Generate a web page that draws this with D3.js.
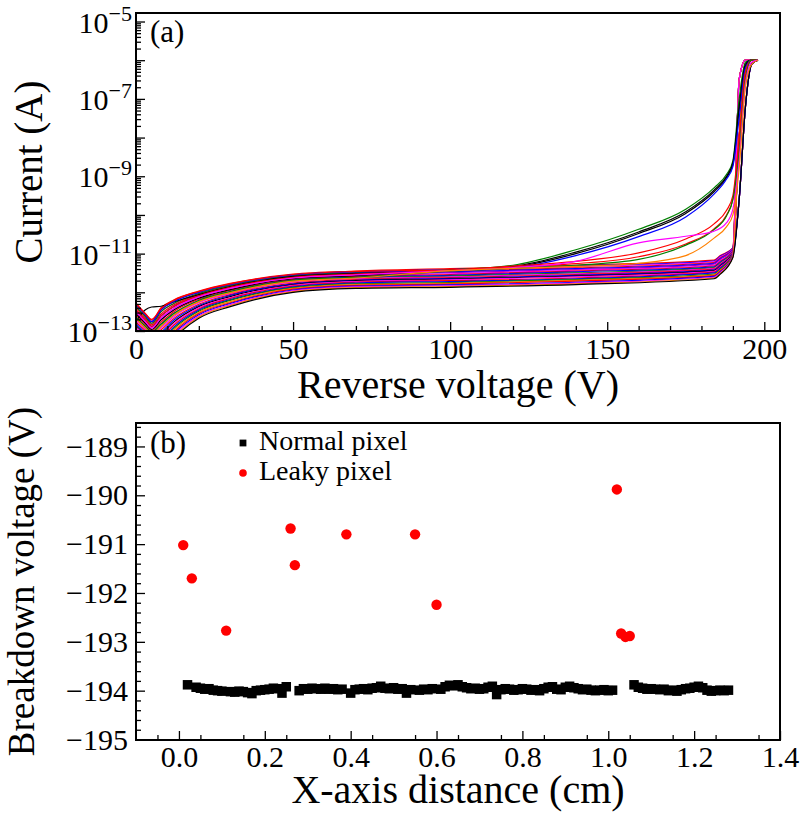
<!DOCTYPE html>
<html><head><meta charset="utf-8">
<script src="https://cdn.jsdelivr.net/npm/d3@7"></script>
<style>body{margin:0;background:#fff}</style>
</head><body>
<svg id="c" width="800" height="813"></svg>
<script>
// ---------------- DATA ----------------
// Panel (a): reverse voltage grid (V) and log10(current / A) per curve
const bandVolts = [0,3,5,8,12,20,30,50,70,100,140,184,186,190,192,194,196,198];
const bandLogI = [
[-12.28,-12.55,-12.72,-12.40,-12.20,-11.97,-11.77,-11.53,-11.45,-11.39,-11.30,-11.17,-11.05,-10.85,-6.5,-6.0,-6.0,-6.0],
[-12.32,-12.59,-12.76,-12.45,-12.24,-12.00,-11.80,-11.55,-11.47,-11.41,-11.32,-11.19,-11.07,-10.86,-8.0,-6.2,-6.0,-6.0],
[-12.37,-12.63,-12.80,-12.50,-12.29,-12.03,-11.82,-11.57,-11.49,-11.43,-11.34,-11.21,-11.09,-10.87,-9.6,-7.2,-6.1,-6.0],
[-12.41,-12.67,-12.84,-12.56,-12.33,-12.06,-11.85,-11.59,-11.51,-11.45,-11.37,-11.23,-11.11,-10.88,-6.5,-6.0,-6.0,-6.0],
[-12.46,-12.72,-12.88,-12.61,-12.37,-12.09,-11.87,-11.61,-11.53,-11.47,-11.39,-11.25,-11.13,-10.89,-8.0,-6.2,-6.0,-6.0],
[-12.50,-12.76,-12.92,-12.66,-12.42,-12.12,-11.90,-11.63,-11.55,-11.49,-11.41,-11.27,-11.15,-10.90,-9.6,-7.2,-6.1,-6.0],
[-12.55,-12.80,-12.96,-12.71,-12.46,-12.15,-11.93,-11.65,-11.57,-11.52,-11.43,-11.30,-11.18,-10.92,-6.5,-6.0,-6.0,-6.0],
[-12.59,-12.84,-12.99,-12.77,-12.50,-12.18,-11.95,-11.67,-11.59,-11.54,-11.45,-11.32,-11.20,-10.93,-8.0,-6.2,-6.0,-6.0],
[-12.64,-12.88,-13.03,-12.82,-12.55,-12.21,-11.98,-11.69,-11.61,-11.56,-11.47,-11.34,-11.22,-10.94,-9.6,-7.2,-6.1,-6.0],
[-12.68,-12.92,-13.07,-12.87,-12.59,-12.24,-12.01,-11.71,-11.63,-11.58,-11.50,-11.36,-11.24,-10.95,-6.5,-6.0,-6.0,-6.0],
[-12.72,-12.96,-13.11,-12.92,-12.63,-12.27,-12.03,-11.73,-11.65,-11.60,-11.52,-11.38,-11.26,-10.96,-8.0,-6.2,-6.0,-6.0],
[-12.77,-13.00,-13.15,-12.97,-12.68,-12.31,-12.06,-11.76,-11.67,-11.62,-11.54,-11.40,-11.28,-10.97,-9.6,-7.2,-6.1,-6.0],
[-12.81,-13.05,-13.19,-13.03,-12.72,-12.34,-12.08,-11.78,-11.69,-11.64,-11.56,-11.42,-11.30,-10.98,-6.5,-6.0,-6.0,-6.0],
[-12.86,-13.09,-13.23,-13.08,-12.77,-12.37,-12.11,-11.80,-11.70,-11.66,-11.58,-11.44,-11.32,-10.99,-8.0,-6.2,-6.0,-6.0],
[-12.90,-13.13,-13.27,-13.13,-12.81,-12.40,-12.14,-11.82,-11.72,-11.68,-11.60,-11.46,-11.34,-11.00,-9.6,-7.2,-6.1,-6.0],
[-12.95,-13.17,-13.31,-13.18,-12.85,-12.43,-12.16,-11.84,-11.74,-11.70,-11.63,-11.48,-11.36,-11.01,-6.5,-6.0,-6.0,-6.0],
[-12.99,-13.21,-13.35,-13.24,-12.90,-12.46,-12.19,-11.86,-11.76,-11.72,-11.65,-11.50,-11.38,-11.02,-8.0,-6.2,-6.0,-6.0],
[-13.03,-13.25,-13.39,-13.29,-12.94,-12.49,-12.21,-11.88,-11.78,-11.75,-11.67,-11.53,-11.41,-11.03,-9.6,-7.2,-6.1,-6.0],
[-13.08,-13.29,-13.42,-13.34,-12.98,-12.52,-12.24,-11.90,-11.80,-11.77,-11.69,-11.55,-11.43,-11.05,-6.5,-6.0,-6.0,-6.0],
[-13.12,-13.34,-13.46,-13.39,-13.03,-12.55,-12.27,-11.92,-11.82,-11.79,-11.71,-11.57,-11.45,-11.06,-8.0,-6.2,-6.0,-6.0],
[-13.17,-13.38,-13.50,-13.44,-13.07,-12.58,-12.29,-11.94,-11.84,-11.81,-11.74,-11.59,-11.47,-11.07,-9.6,-7.2,-6.1,-6.0],
[-13.21,-13.42,-13.54,-13.50,-13.11,-12.61,-12.32,-11.96,-11.86,-11.83,-11.76,-11.61,-11.49,-11.08,-6.5,-6.0,-6.0,-6.0],
[-13.26,-13.46,-13.58,-13.55,-13.16,-12.64,-12.34,-11.98,-11.88,-11.85,-11.78,-11.63,-11.51,-11.09,-8.0,-6.2,-6.0,-6.0],
[-13.30,-13.50,-13.62,-13.60,-13.20,-12.67,-12.37,-12.00,-11.90,-11.87,-11.80,-11.65,-11.53,-11.10,-9.6,-7.2,-6.1,-6.0]
];
// Early-leaking curves
const leakyVolts = [0,3,5,8,12,20,30,50,70,100,120,140,160,175,184,188,190,192,194,196,198];
const leakyLogI = [
[-12.37,-12.63,-12.80,-12.50,-12.29,-12.03,-11.82,-11.57,-11.49,-11.42,-11.30,-10.90,-10.37,-9.85,-9.30,-8.95,-8.60,-7.00,-6.05,-6.00,-6.00],
[-12.75,-12.45,-12.38,-12.36,-12.25,-12.06,-11.85,-11.59,-11.51,-11.43,-11.33,-10.96,-10.44,-9.92,-9.36,-9.00,-8.65,-7.20,-6.10,-6.00,-6.00],
[-12.55,-12.80,-12.96,-12.71,-12.46,-12.15,-11.93,-11.65,-11.57,-11.44,-11.35,-11.00,-10.48,-9.96,-9.40,-9.03,-8.70,-7.30,-6.15,-6.00,-6.00],
[-12.32,-12.59,-12.76,-12.45,-12.24,-12.00,-11.80,-11.55,-11.47,-11.45,-11.37,-11.05,-10.56,-10.05,-9.46,-9.07,-8.75,-7.50,-6.20,-6.00,-6.00],
[-12.30,-12.56,-12.70,-12.42,-12.21,-11.98,-11.78,-11.54,-11.46,-11.42,-11.32,-11.20,-10.98,-10.62,-10.23,-9.88,-9.50,-8.00,-6.30,-6.00,-6.00],
[-12.46,-12.72,-12.88,-12.61,-12.37,-12.09,-11.87,-11.61,-11.53,-11.44,-11.35,-11.26,-11.08,-10.75,-10.36,-10.00,-9.60,-8.20,-6.40,-6.00,-6.00],
[-12.64,-12.88,-13.03,-12.82,-12.55,-12.21,-11.98,-11.69,-11.61,-11.45,-11.38,-11.30,-11.15,-10.78,-10.38,-10.02,-9.60,-8.40,-6.50,-6.00,-6.00],
[-12.50,-12.76,-12.92,-12.66,-12.42,-12.12,-11.90,-11.63,-11.55,-11.44,-11.36,-11.20,-10.72,-10.55,-10.42,-10.20,-9.85,-8.60,-6.60,-6.05,-6.00],
[-12.68,-12.92,-13.07,-12.87,-12.59,-12.24,-12.01,-11.71,-11.63,-11.44,-11.38,-11.33,-11.25,-11.05,-10.60,-10.30,-10.00,-8.80,-6.70,-6.10,-6.00]
];
const topXTicks = [0,50,100,150,200];
const topYLabelExps = [-13,-11,-9,-7,-5];

// Panel (b): breakdown voltage vs x-axis position
const normalX = [0.02,0.04,0.05,0.06,0.07,0.08,0.09,0.10,0.12,0.13,0.14,0.15,0.16,0.17,0.18,0.19,0.20,0.21,0.22,0.23,0.24,0.25,
0.28,0.29,0.30,0.31,0.32,0.33,0.34,0.35,0.36,0.37,0.38,0.40,0.41,0.42,0.43,0.44,0.45,0.46,0.47,0.48,0.49,0.50,0.51,0.52,0.53,0.54,
0.56,0.57,0.58,0.59,0.61,0.62,0.63,0.64,0.65,0.66,0.67,0.68,0.69,0.70,0.71,0.72,0.73,0.74,0.75,0.76,0.77,0.78,0.79,0.80,
0.81,0.82,0.83,0.84,0.85,0.86,0.87,0.88,0.89,0.90,0.91,0.92,0.93,0.94,0.95,0.96,0.97,0.98,0.99,1.00,1.01,
1.06,1.07,1.08,1.09,1.10,1.11,1.12,1.13,1.14,1.15,1.16,1.17,1.18,1.19,1.20,1.21,1.22,1.23,1.24,1.25,1.26,1.27,1.28];
const normalY = [-193.88,-193.93,-193.95,-193.97,-193.96,-193.99,-194.00,-194.01,-194.02,-194.03,-194.01,-194.02,-194.04,-194.06,-194.00,-193.99,-193.98,-193.97,-193.95,-193.96,-194.05,-193.92,
-194.00,-193.96,-193.97,-193.95,-193.96,-193.97,-193.95,-193.97,-193.96,-193.98,-193.97,-194.05,-193.98,-193.97,-193.96,-193.98,-193.95,-193.94,-193.91,-193.95,-193.96,-193.94,-193.97,-193.96,-194.05,-193.98,
-193.99,-193.97,-193.98,-193.96,-193.97,-193.92,-193.89,-193.90,-193.88,-193.92,-193.94,-193.96,-193.95,-193.97,-193.96,-193.93,-193.91,-194.08,-193.98,-193.96,-193.97,-193.99,-193.98,-193.96,
-193.97,-193.99,-193.98,-194.00,-193.96,-193.93,-193.92,-193.97,-193.98,-193.93,-193.91,-193.94,-193.96,-193.98,-193.97,-193.99,-194.00,-193.99,-193.98,-194.00,-193.99,
-193.88,-193.93,-193.95,-193.97,-193.96,-193.97,-193.98,-193.97,-194.00,-193.99,-194.01,-193.98,-193.96,-193.95,-193.93,-193.91,-193.94,-193.99,-194.01,-194.00,-193.99,-194.00,-193.99];
const leakyX = [0.01,0.03,0.11,0.26,0.27,0.39,0.55,0.60,1.02,1.03,1.04,1.05];
const leakyY = [-191.02,-191.70,-192.77,-190.68,-191.43,-190.80,-190.80,-192.24,-189.88,-192.83,-192.90,-192.88];
const botXTicks = [0,0.2,0.4,0.6,0.8,1.0,1.2,1.4];
const botYTicks = [-195,-194,-193,-192,-191,-190,-189];

// ---------------- STYLE ----------------
const FONT = "'Liberation Serif','Times New Roman',serif";
const bandColors = ["#ff0000","#0000ff","#ff00ff","#ff0000","#0000ff","#9000d0","#ff00ff","#ff0000","#0000ff","#008000","#ff00ff","#ff0000",
                    "#0000ff","#000000","#ff00ff","#ff0000","#0000ff","#008000","#ff8000","#ff0000","#0000ff","#ff00ff","#ff8000","#000000"];
const leakyColors = ["#008000","#000000","#000000","#0000ff","#ff0000","#ff0000","#008000","#ff00ff","#ff8000"];

const svg = d3.select("#c");
svg.append("rect").attr("width",800).attr("height",813).attr("fill","#fff");

// ---------------- PANEL (a) ----------------
const A = {l:136, r:780, t:13, b:331};
const xA = d3.scaleLinear().domain([0,205]).range([A.l, A.r]);
const yA = d3.scaleLog().domain([1e-13, 1.66e-5]).range([A.b, A.t]);

svg.append("clipPath").attr("id","clipA").append("rect")
  .attr("x",A.l).attr("y",A.t).attr("width",A.r-A.l).attr("height",A.b-A.t);

const lineA = d3.line().x(d=>xA(d[0])).y(d=>yA(Math.pow(10,d[1]))).curve(d3.curveMonotoneX);
const gA = svg.append("g").attr("clip-path","url(#clipA)");
bandLogI.forEach((row,i)=>{
  gA.append("path").datum(bandVolts.map((v,j)=>[v,row[j]]))
    .attr("d",lineA).attr("fill","none").attr("stroke",bandColors[i%bandColors.length]).attr("stroke-width",1.2);
});
leakyLogI.forEach((row,i)=>{
  gA.append("path").datum(leakyVolts.map((v,j)=>[v,row[j]]))
    .attr("d",lineA).attr("fill","none").attr("stroke",leakyColors[i]).attr("stroke-width",1.2);
});

// x axis (a)
svg.append("g").attr("transform",`translate(0,${A.b})`)
  .call(d3.axisBottom(xA).tickValues(topXTicks).tickSizeInner(-9).tickSizeOuter(0).tickPadding(7).tickFormat(d3.format("d")));
svg.append("g").attr("transform",`translate(0,${A.b})`)
  .call(d3.axisBottom(xA).tickValues(d3.range(0,206,10).filter(v=>v%50!==0)).tickSizeInner(-5).tickSizeOuter(0).tickFormat(""));
// y axis (a)
const decades = d3.range(-13,-4).map(e=>Math.pow(10,e));
const minorA = [];
d3.range(-13,-5).forEach(e=>{ for(let m=2;m<=9;m++) minorA.push(m*Math.pow(10,e)); });
svg.append("g").attr("transform",`translate(${A.l},0)`)
  .call(d3.axisLeft(yA).tickValues(decades).tickSizeInner(-9).tickSizeOuter(0).tickFormat(""));
svg.append("g").attr("transform",`translate(${A.l},0)`)
  .call(d3.axisLeft(yA).tickValues(minorA).tickSizeInner(-5).tickSizeOuter(0).tickFormat(""));
topYLabelExps.forEach(e=>{
  const t = svg.append("text").attr("x",A.l-4).attr("y",yA(Math.pow(10,e))+11)
    .attr("text-anchor","end").attr("font-family",FONT).attr("font-size",30).attr("fill","#000");
  t.append("tspan").text("10");
  t.append("tspan").attr("dy",-12).attr("font-size",22).text("\u2212"+Math.abs(e));
});

// ---------------- PANEL (b) ----------------
const B = {l:136, r:780, t:423, b:740};
const xB = d3.scaleLinear().domain([-0.1,1.4]).range([B.l, B.r]);
const yB = d3.scaleLinear().domain([-195.01,-188.52]).range([B.b, B.t]);

svg.append("g").attr("transform",`translate(0,${B.b})`)
  .call(d3.axisBottom(xB).tickValues(botXTicks).tickSizeInner(-9).tickSizeOuter(0).tickPadding(6).tickFormat(d3.format(".1f")));
svg.append("g").attr("transform",`translate(0,${B.b})`)
  .call(d3.axisBottom(xB).tickValues(d3.range(-0.05,1.4,0.1)).tickSizeInner(-5).tickSizeOuter(0).tickFormat(""));
svg.append("g").attr("transform",`translate(${B.l},0)`)
  .call(d3.axisLeft(yB).tickValues(botYTicks).tickSizeInner(-9).tickSizeOuter(0).tickPadding(8).tickFormat(d3.format("d")));
svg.append("g").attr("transform",`translate(${B.l},0)`)
  .call(d3.axisLeft(yB).tickValues(d3.range(-194.8,-188.5,0.2).filter(v=>Math.abs(v-Math.round(v))>0.05)).tickSizeInner(-5).tickSizeOuter(0).tickFormat(""));

const sq = 9.5;
svg.append("g").selectAll("rect").data(normalX.map((x,i)=>[x,normalY[i]])).join("rect")
  .attr("x",d=>xB(d[0])-sq/2).attr("y",d=>yB(d[1])-sq/2).attr("width",sq).attr("height",sq).attr("fill","#000");
svg.append("g").selectAll("circle").data(leakyX.map((x,i)=>[x,leakyY[i]])).join("circle")
  .attr("cx",d=>xB(d[0])).attr("cy",d=>yB(d[1])).attr("r",5.2).attr("fill","#ff0000");

// legend (b)
svg.append("rect").attr("x",243-3.4).attr("y",443-3.4).attr("width",6.8).attr("height",6.8).attr("fill","#000");
svg.append("circle").attr("cx",243).attr("cy",473).attr("r",3.8).attr("fill","#ff0000");
svg.append("text").attr("x",259).attr("y",450).attr("font-family",FONT).attr("font-size",28).text("Normal pixel");
svg.append("text").attr("x",259).attr("y",480).attr("font-family",FONT).attr("font-size",28).text("Leaky pixel");

// style axes
svg.selectAll(".domain").remove();
svg.selectAll(".tick line").attr("stroke","#000").attr("stroke-width",1.3);
svg.selectAll(".tick text").attr("font-family",FONT).attr("font-size",30).attr("fill","#000");

// frames
[A,B].forEach(P=>{
  svg.append("rect").attr("x",P.l).attr("y",P.t).attr("width",P.r-P.l).attr("height",P.b-P.t)
    .attr("fill","none").attr("stroke","#000").attr("stroke-width",2);
});

// panel labels
svg.append("text").attr("x",150).attr("y",42).attr("font-family",FONT).attr("font-size",31).text("(a)");
svg.append("text").attr("x",150).attr("y",453).attr("font-family",FONT).attr("font-size",31).text("(b)");

// axis titles (alphabetic baseline)
function title(txt,x,y,rot,size){
  svg.append("text").attr("transform",`translate(${x},${y}) rotate(${rot})`)
    .attr("text-anchor","middle")
    .attr("font-family",FONT).attr("font-size",size).attr("fill","#000").text(txt);
}
title("Current (A)",42,(A.t+A.b)/2,-90,39);
title("Reverse voltage (V)",(A.l+A.r)/2,398,0,40);
title("Breakdown voltage (V)",34,(B.t+B.b)/2,-90,37);
title("X-axis distance (cm)",(B.l+B.r)/2,803,0,40);
</script></body></html>
